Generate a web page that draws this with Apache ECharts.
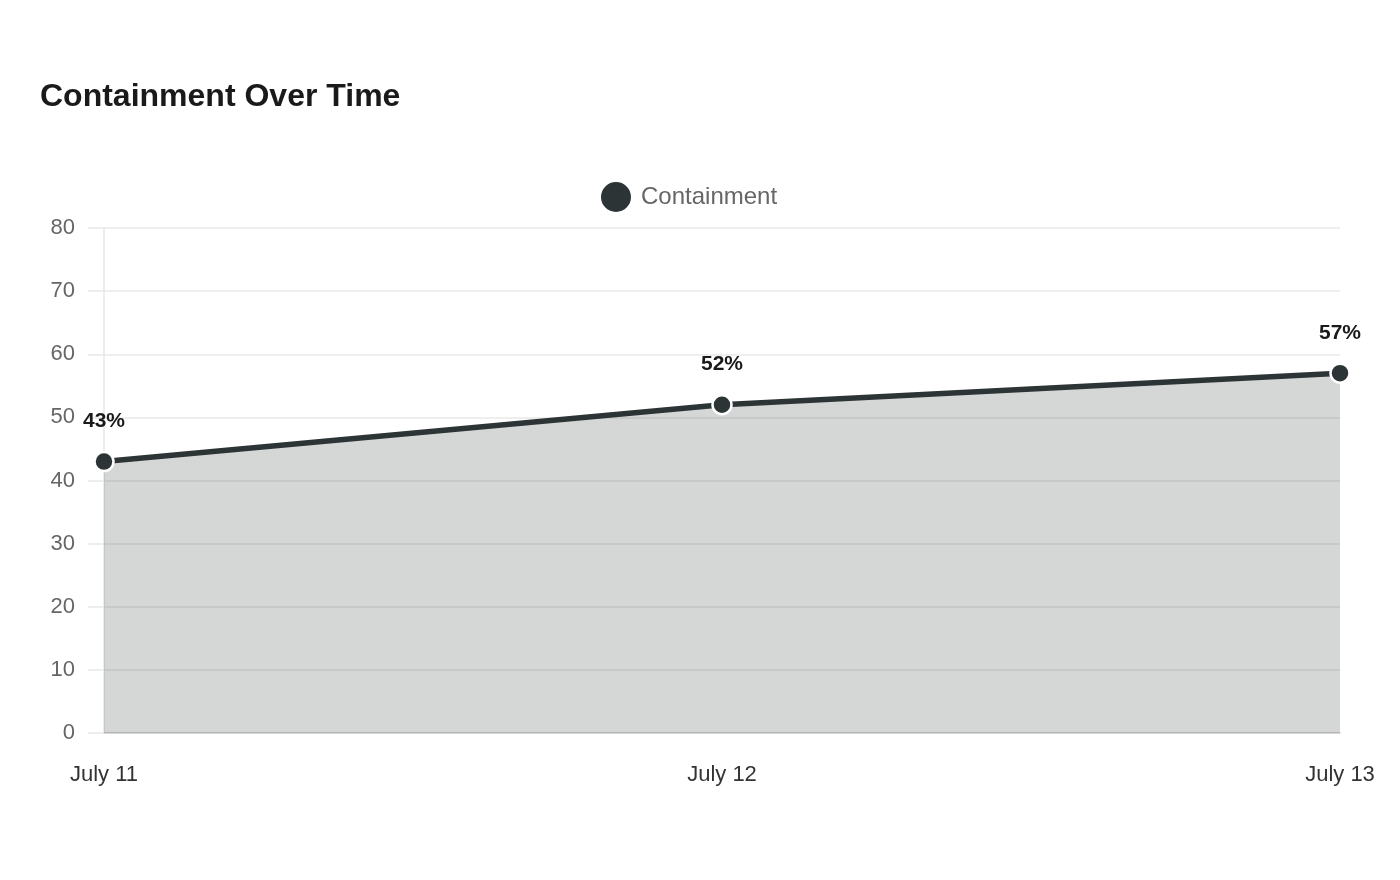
<!DOCTYPE html>
<html>
<head>
<meta charset="utf-8">
<script src="https://cdn.jsdelivr.net/npm/echarts@6/dist/echarts.min.js"></script>
<style>
html,body{margin:0;padding:0;background:#fff;}
#c{width:1400px;height:880px;}
</style>
</head>
<body>
<div id="c"></div>
<script>
const categories = ['July 11', 'July 12', 'July 13'];
const containment = [43, 52, 57];
const seriesName = 'Containment';
const chartTitle = 'Containment Over Time';

const chart = echarts.init(document.getElementById('c'));
const font = '"Liberation Sans", Arial, sans-serif';
chart.setOption({
  animation: false,
  backgroundColor: '#fff',
  textStyle: { fontFamily: font },
  title: {
    text: chartTitle,
    left: 35, top: 76,
    textStyle: { fontFamily: font, fontSize: 32, fontWeight: 'bold', color: '#1a1a1a' }
  },
  legend: {
    data: [{ name: seriesName, icon: 'circle' }],
    left: 594, top: 175,
    itemWidth: 32, itemHeight: 32, itemGap: 10,
    textStyle: { fontFamily: font, fontSize: 24, color: '#666', padding: [0, 0, 0, 4] }
  },
  grid: { left: 104, right: 60, top: 228, bottom: 147, containLabel: false },
  xAxis: {
    type: 'category',
    data: categories,
    boundaryGap: false,
    axisLine: { show: true, lineStyle: { color: '#d0d0d0', width: 1.5 } },
    axisTick: { show: false },
    axisLabel: { fontFamily: font, fontSize: 22, color: '#333', margin: 31 },
    splitLine: { show: false }
  },
  yAxis: {
    type: 'value',
    min: 0, max: 80, interval: 10,
    axisLine: { show: true, lineStyle: { color: '#e6e6e6', width: 1.5 } },
    axisTick: { show: true, length: 16, lineStyle: { color: '#e8e8e8', width: 1.5 } },
    axisLabel: { fontFamily: font, fontSize: 22, color: '#666', margin: 29 },
    splitLine: { show: true, lineStyle: { color: '#e8e8e8', width: 1.5 } }
  },
  series: [{
    name: seriesName,
    type: 'line',
    data: containment,
    color: '#2d3436',
    lineStyle: { color: '#2d3436', width: 5.5 },
    symbol: 'circle',
    symbolSize: 19,
    itemStyle: { color: '#2d3436', borderColor: '#fff', borderWidth: 2.5 },
    areaStyle: { color: 'rgba(45,52,48,0.2)', opacity: 1 },
    label: {
      show: true, position: 'top', distance: 19,
      formatter: p => p.value + '%',
      fontFamily: font, fontSize: 21, fontWeight: 'bold', color: '#1a1a1a'
    }
  }]
});
</script>
</body>
</html>
